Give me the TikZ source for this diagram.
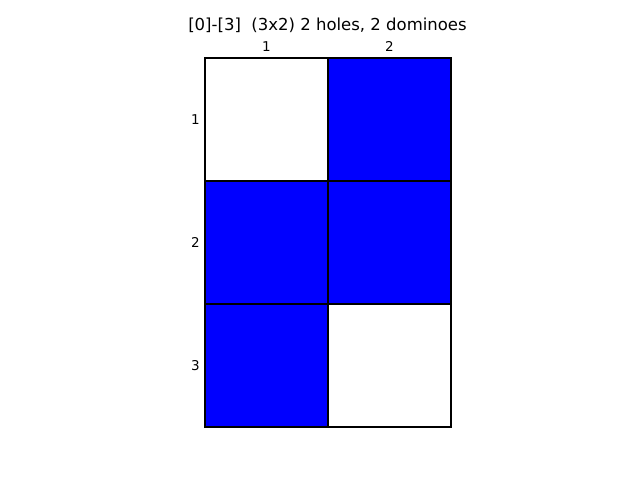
\documentclass[tikz,border=0pt]{standalone}
\usepackage{fontspec}
\setmainfont{DejaVu Sans}
\usetikzlibrary{positioning}
\def\Cell{123}
\def\Hole{white}
\def\Tile{blue}
\tikzset{
    grid cell/.style={
        draw=black, line width=1.3pt, fill=#1,
        minimum size=\Cell pt, inner sep=0pt, outer sep=0pt
    },
    tick label/.style={font=\fontsize{13.5}{15}\selectfont, inner sep=1pt}
}
\begin{document}
\begin{tikzpicture}[x=1pt, y=-1pt]
    \useasboundingbox (0,0) rectangle (640,480);
    % rows 1..3, columns 1..2: fill colour per cell
    \foreach \r/\c/\clr in {1/1/\Hole, 1/2/\Tile, 2/1/\Tile, 2/2/\Tile, 3/1/\Tile, 3/2/\Hole}{
        \node[grid cell=\clr] (c\r\c) at (205+\Cell*\c-\Cell/2, 58+\Cell*\r-\Cell/2) {};
    }
    \foreach \c in {1,2}{
        \node[tick label, anchor=south] (col\c) at ([yshift=5pt]c1\c.north) {\c};
    }
    \foreach \r in {1,2,3}{
        \node[tick label, anchor=east] (row\r) at ([xshift=-4pt]c\r1.west) {\r};
    }
    \node[font=\fontsize{16.5}{18}\selectfont] (title) at (327.5,25) {[0]-[3]\ \ (3x2) 2 holes, 2 dominoes};
\end{tikzpicture}
\end{document}
